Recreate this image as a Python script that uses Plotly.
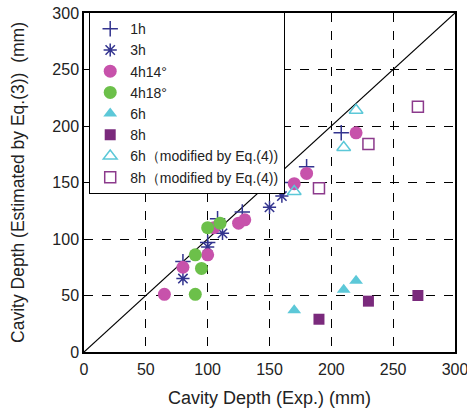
import plotly.graph_objects as go

# Data (Exp. depth, Estimated depth) in mm
h1_x = [80, 100, 108, 128, 160, 180, 208]
h1_y = [80, 97, 118, 124, 150, 164, 194]
h3_x = [80, 100, 112, 150, 160]
h3_y = [65, 93, 105, 128, 138]
h4_14_x = [65, 80, 100, 105, 125, 130, 170, 180, 220]
h4_14_y = [51, 75, 86, 110, 114, 117, 149, 158, 194]
h4_18_x = [90, 90, 95, 100, 110]
h4_18_y = [51, 86, 74, 110, 114]
h6_x = [170, 210, 220]
h6_y = [37, 55, 63]
h8_x = [190, 230, 270]
h8_y = [29, 45, 50]
h6m_x = [170, 210, 220]
h6m_y = [142, 181, 214]
h8m_x = [190, 230, 270]
h8m_y = [145, 184, 217]
diag_x = [0, 300]
diag_y = [0, 300]
ticks = [0, 50, 100, 150, 200, 250, 300]

navy = "#33348f"
magenta = "#c752ab"
green = "#6cc04a"
cyan = "#5cc8d8"
purple = "#7a2a7c"
lpurple = "#8c3a8c"

fig = go.Figure()
fig.add_trace(go.Scatter(x=diag_x, y=diag_y, mode="lines",
                         line=dict(color="black", width=1.2), showlegend=False, hoverinfo="skip"))

def add(x, y, name, symbol, color, size, lw=1.5):
    fig.add_trace(go.Scatter(x=x, y=y, mode="markers", name=name,
                             marker=dict(symbol=symbol, size=size, color=color,
                                         line=dict(color=color, width=lw))))

add(h1_x, h1_y, "1h", "cross-thin-open", navy, 11)
add(h3_x, h3_y, "3h", "asterisk-open", navy, 11)
add(h4_14_x, h4_14_y, "4h14°", "circle", magenta, 13, 0)
add(h4_18_x, h4_18_y, "4h18°", "circle", green, 13, 0)
add(h6_x, h6_y, "6h", "triangle-up", cyan, 12, 0)
add(h8_x, h8_y, "8h", "square", purple, 11, 0)
add(h6m_x, h6m_y, "6h（modified by Eq.(4))", "triangle-up-open", cyan, 12, 1.5)
add(h8m_x, h8m_y, "8h（modified by Eq.(4))", "square-open", lpurple, 11, 1.5)

axis_common = dict(range=[0, 300], tickvals=ticks, showgrid=True,
                   gridcolor="black", griddash="dash", gridwidth=1,
                   showline=True, linecolor="black", linewidth=1.5, mirror=True,
                   zeroline=False, ticks="", tickfont=dict(size=16, color="#222"),
                   fixedrange=True, automargin=False, ticklabeloverflow="allow")

fig.update_layout(
    width=467, height=416,
    margin=dict(l=84, r=12, t=13, b=64, autoexpand=False),
    paper_bgcolor="white", plot_bgcolor="white",
    font=dict(family="Liberation Sans, Arial, sans-serif", color="#222"),
    xaxis=dict(**axis_common, ticklabelstandoff=2,
               title=dict(text="Cavity Depth (Exp.) (mm)", font=dict(size=18), standoff=14)),
    yaxis=dict(**axis_common,
               title=dict(text="Cavity Depth (Estimated by Eq.(3))  (mm)", font=dict(size=17.5), standoff=23)),
    legend=dict(x=0.0135, y=1.003, xanchor="left", yanchor="top",
                bgcolor="white", bordercolor="black", borderwidth=1.2,
                font=dict(size=14), tracegroupgap=0, itemwidth=30),
)

fig.write_html("out.html", config={"displayModeBar": False},
               post_script="document.body.style.margin='0';document.body.style.overflow='hidden';")
